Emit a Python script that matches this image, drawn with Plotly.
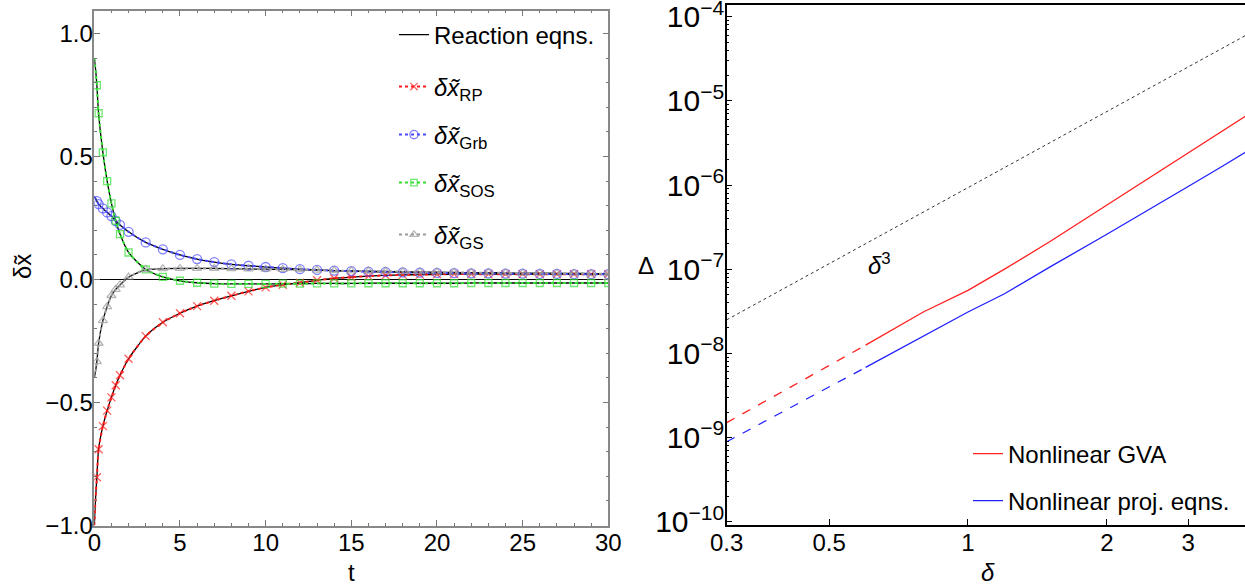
import plotly.graph_objects as go

# ---------------- Left panel data ----------------
t_head = [0, 0.05, 0.1]
t_marks = [0.15, 0.25, 0.5, 0.75, 1.0, 1.25, 1.5, 2, 3, 4, 5, 6, 7, 8, 9, 10,
           11, 12, 13, 14, 15, 16, 17, 18, 19, 20, 21, 22, 23, 24, 25, 26, 27, 28, 29, 30]

rp_head = [-1.0, -0.92, -0.86]
rp_vals = [-0.804, -0.690, -0.596, -0.533, -0.479, -0.430, -0.389, -0.322, -0.230, -0.174,
           -0.137, -0.108, -0.086, -0.066, -0.048, -0.032, -0.021, -0.013, -0.003, 0.005,
           0.010, 0.014, 0.017, 0.019, 0.020, 0.021, 0.022, 0.022, 0.022, 0.022, 0.022,
           0.022, 0.022, 0.022, 0.022, 0.022]

grb_head = [0.337, 0.331, 0.325]
grb_vals = [0.319, 0.307, 0.289, 0.273, 0.258, 0.238, 0.222, 0.194, 0.151, 0.123,
            0.100, 0.083, 0.071, 0.062, 0.056, 0.051, 0.046, 0.042, 0.039, 0.036,
            0.034, 0.032, 0.031, 0.029, 0.028, 0.027, 0.026, 0.025, 0.025, 0.024, 0.024,
            0.023, 0.023, 0.022, 0.022, 0.022]

sos_head = [0.90, 0.87, 0.835]
sos_vals = [0.790, 0.676, 0.517, 0.400, 0.310, 0.239, 0.185, 0.110, 0.041, 0.011,
            -0.005, -0.013, -0.017, -0.018, -0.018, -0.018, -0.017, -0.017, -0.016, -0.016,
            -0.016, -0.015, -0.015, -0.015, -0.015, -0.015, -0.015, -0.014, -0.014, -0.014,
            -0.014, -0.014, -0.014, -0.014, -0.014, -0.014]

gs_head = [-0.40, -0.38, -0.36]
gs_vals = [-0.334, -0.259, -0.167, -0.110, -0.065, -0.040, -0.022, 0.010, 0.040, 0.044,
           0.045, 0.045, 0.045, 0.044, 0.043, 0.042, 0.041, 0.040, 0.038, 0.036,
           0.035, 0.034, 0.033, 0.032, 0.031, 0.030, 0.029, 0.028, 0.028, 0.027, 0.026,
           0.026, 0.025, 0.025, 0.024, 0.024]

left_xticks = [0, 5, 10, 15, 20, 25, 30]
left_yticks = [-1.0, -0.5, 0.0, 0.5, 1.0]

# ---------------- Right panel data ----------------
delta_dash = [0.3, 0.6]
gva_dash = [1.5e-9, 1.25e-8]
proj_dash = [8.9e-10, 6.8e-9]

delta_solid = [0.6, 0.8, 1.0, 1.2, 1.5, 2.0, 2.5, 3.0, 3.5, 4.0]
gva_solid = [1.25e-8, 3.1e-8, 5.6e-8, 1.0e-7, 2.1e-7, 5.8e-7, 1.26e-6, 2.4e-6, 4.1e-6, 6.6e-6]
proj_solid = [6.8e-9, 1.6e-8, 3.1e-8, 5.1e-8, 1.05e-7, 2.6e-7, 5.4e-7, 9.6e-7, 1.58e-6, 2.47e-6]

delta_cube = [0.3, 4.0]
cube_vals = [2.5e-8, 6.0e-5]

right_xticks = [0.3, 0.5, 1, 2, 3]
right_xticktext = ["0.3", "0.5", "1", "2", "3"]

FONT = "Liberation Sans, Arial, sans-serif"
FS = 24

fig = go.Figure()

series = [
    ("<i>δx̃</i><sub>RP</sub>", rp_head, rp_vals, "#ff1a1a", "x-thin-open", 8, "legend2"),
    ("<i>δx̃</i><sub>Grb</sub>", grb_head, grb_vals, "#4a4aff", "circle-open", 9, "legend3"),
    ("<i>δx̃</i><sub>SOS</sub>", sos_head, sos_vals, "#33dd33", "square-open", 7, "legend4"),
    ("<i>δx̃</i><sub>GS</sub>", gs_head, gs_vals, "#999999", "triangle-up-open", 8, "legend5"),
]

# Reaction equations: black solid reference curves
for i, (name, head, vals, col, sym, ms, lg) in enumerate(series):
    fig.add_trace(go.Scatter(
        x=t_head + t_marks, y=head + vals, mode="lines",
        line=dict(color="black", width=1.3, shape="spline", smoothing=0.6),
        name="Reaction eqns.", legend="legend", showlegend=(i == 0),
        xaxis="x", yaxis="y", hoverinfo="skip"))

# Approximations: coloured dotted lines with markers
for name, head, vals, col, sym, ms, lg in series:
    sizes = [0] * len(head) + [ms] * len(vals)
    fig.add_trace(go.Scatter(
        x=t_head + t_marks, y=head + vals, mode="lines+markers",
        line=dict(color=col, width=2, dash="dot", shape="spline", smoothing=0.6),
        marker=dict(symbol=sym, size=sizes, color=col, line=dict(color=col, width=1.3)),
        name=name, legend=lg, xaxis="x", yaxis="y"))

# Right panel
fig.add_trace(go.Scatter(x=delta_cube, y=cube_vals, mode="lines",
                         line=dict(color="#333333", width=1, dash="dot"),
                         showlegend=False, xaxis="x2", yaxis="y2"))
fig.add_trace(go.Scatter(x=delta_dash, y=gva_dash, mode="lines",
                         line=dict(color="#ff2020", width=1.3, dash="dash"),
                         showlegend=False, xaxis="x2", yaxis="y2"))
fig.add_trace(go.Scatter(x=delta_dash, y=proj_dash, mode="lines",
                         line=dict(color="#2020ff", width=1.3, dash="dash"),
                         showlegend=False, xaxis="x2", yaxis="y2"))
fig.add_trace(go.Scatter(x=delta_solid, y=gva_solid, mode="lines",
                         line=dict(color="#ff2020", width=1.3),
                         name="Nonlinear GVA", legend="legend6", xaxis="x2", yaxis="y2"))
fig.add_trace(go.Scatter(x=delta_solid, y=proj_solid, mode="lines",
                         line=dict(color="#2020ff", width=1.3),
                         name="Nonlinear proj. eqns.", legend="legend7", xaxis="x2", yaxis="y2"))

W, H = 1245, 587


def px(x):
    return x / W


def py(y):
    return 1 - y / H


def leg(xp, yp):
    return dict(x=px(xp), y=py(yp), xanchor="left", yanchor="middle",
                bgcolor="rgba(0,0,0,0)", font=dict(family=FONT, size=FS, color="black"),
                itemwidth=30, borderwidth=0)


def label(text, xp, yp, angle=0):
    return dict(text=text, x=px(xp), y=py(yp), xref="paper", yref="paper",
                xanchor="center", yanchor="middle", showarrow=False, textangle=angle,
                font=dict(family=FONT, size=FS, color="black"))


axis_font = dict(family=FONT, size=FS, color="black")

fig.update_layout(
    width=W, height=H,
    margin=dict(l=0, r=0, t=0, b=0, pad=0),
    paper_bgcolor="white", plot_bgcolor="white",
    font=dict(family=FONT, size=FS, color="black"),
    xaxis=dict(domain=[px(94.3), px(608.3)], range=[0, 30], automargin=False,
               tickvals=left_xticks, ticks="inside", ticklen=6, tickcolor="#777",
               ticklabelstandoff=-5,
               minor=dict(dtick=1, ticks="inside", ticklen=3, tickcolor="#777"),
               showline=True, linecolor="#888", linewidth=1.5, mirror="allticks",
               showgrid=False, zeroline=False, tickfont=axis_font, anchor="y"),
    yaxis=dict(domain=[py(525.5), py(10.7)], range=[-1.0, 1.093], automargin=False,
               tickvals=left_yticks, tickformat=".1f", ticks="inside", ticklen=6, tickcolor="#777",
               ticklabelstandoff=-5,
               minor=dict(dtick=0.1, ticks="inside", ticklen=3, tickcolor="#777"),
               showline=True, linecolor="#888", linewidth=1.5, mirror="allticks",
               showgrid=False, zeroline=True, zerolinecolor="black", zerolinewidth=1,
               tickfont=axis_font, anchor="x"),
    xaxis2=dict(type="log", domain=[px(726.7), 1.0], range=[-0.5229, 0.6003], automargin=False,
                tickvals=right_xticks, ticktext=right_xticktext,
                ticks="inside", ticklen=6, tickcolor="black", ticklabelstandoff=-5,
                showline=True, linecolor="black", linewidth=1.5, mirror=True,
                showgrid=False, zeroline=False, tickfont=axis_font, anchor="y2"),
    yaxis2=dict(type="log", domain=[py(525), py(5)], range=[-10.04, -3.861], automargin=False,
                dtick=1, exponentformat="power", showexponent="all",
                ticks="inside", ticklen=6, tickcolor="black", ticklabelstandoff=-4,
                ticklabeloverflow="allow",
                minor=dict(ticks="inside", ticklen=3, tickcolor="black"),
                showline=True, linecolor="black", linewidth=1.5,
                showgrid=False, zeroline=False, tickfont=axis_font, anchor="x2"),
    legend=leg(394, 35),
    legend2=leg(394, 87),
    legend3=leg(394, 135),
    legend4=leg(394, 183),
    legend5=leg(394, 235),
    legend6=leg(968, 454),
    legend7=leg(968, 501),
    annotations=[
        label("δx̃", 22, 266, -90),
        label("t", 351, 572),
        label("Δ", 646, 265),
        label("<i>δ</i>", 988, 572),
        dict(text="<i>δ</i><sup>3</sup>", x=-0.192, y=-6.94, xref="x2", yref="y2",
             showarrow=False, font=dict(family=FONT, size=FS, color="black")),
    ],
)

# remove the default 8px page margin so the figure sits at the window's top-left corner
fig.write_html("out.html", config={"displayModeBar": False},
               post_script="document.body.style.margin='0px';")
